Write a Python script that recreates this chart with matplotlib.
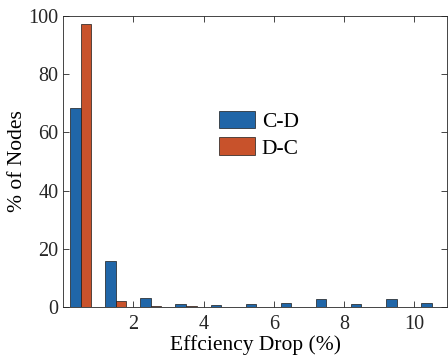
import numpy as np
import matplotlib
matplotlib.use('Agg')
import matplotlib.pyplot as plt

# bin centres and percentages
centres = [0.5, 1.5, 2.5, 3.5, 4.5, 5.5, 6.5, 7.5, 8.5, 9.5, 10.5]
cd_vals = [68.3, 15.8, 3.2, 1.0, 0.5, 1.0, 1.5, 2.7, 1.0, 2.7, 1.5]
dc_vals = [97.1, 2.0, 0.3, 0.2, 0.0, 0.1, 0.0, 0.0, 0.0, 0.0, 0.0]
series_names = ['C-D', 'D-C']

plt.rcParams['font.family'] = ['Liberation Serif', 'DejaVu Serif']

fig = plt.figure(figsize=(4.48, 3.56), dpi=100)
ax = fig.add_axes([0.141, 0.138, 0.857, 0.817])

x = np.array(centres)
w = 0.3
ax.bar(x - w / 2, cd_vals, w, color='#2066a8', edgecolor='#1a1a1a', linewidth=0.5, label=series_names[0])
ax.bar(x + w / 2, dc_vals, w, color='#c8522b', edgecolor='#1a1a1a', linewidth=0.5, label=series_names[1])

ax.set_xlim(0, 10.94)
ax.set_ylim(0, 100)
ax.set_xticks([2, 4, 6, 8, 10])
ax.set_yticks([0, 20, 40, 60, 80, 100])
ax.tick_params(direction='in', top=True, right=True, labelsize=14.5, length=4, width=0.6, colors='#262626')
ax.tick_params(axis='x', pad=6)
for s in ax.spines.values():
    s.set_linewidth(0.6)
    s.set_color('#262626')

ax.set_xlabel('Effciency Drop (%)', fontsize=15.5, labelpad=0.5)
ax.set_ylabel('% of Nodes', fontsize=15.5, labelpad=1)

ax.legend(loc='upper left', bbox_to_anchor=(0.405, 0.675), frameon=False, fontsize=15.5,
          handlelength=1.7, handleheight=0.9, handletextpad=0.3, labelspacing=0.25, borderaxespad=0,
          borderpad=0)

fig.savefig('out.png', dpi=100)
